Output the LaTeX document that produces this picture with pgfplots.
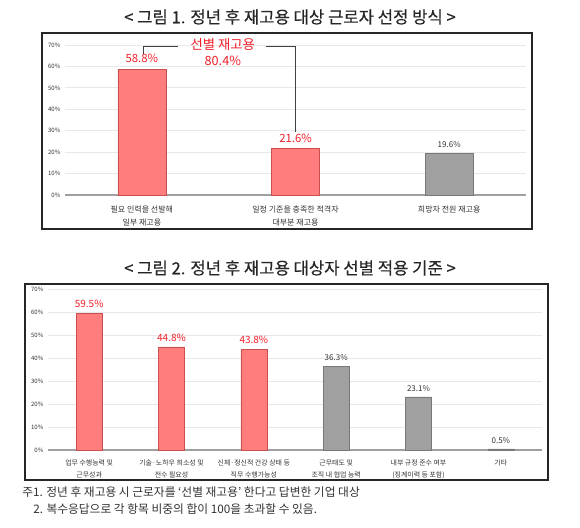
\documentclass[border=0pt]{standalone}
\usepackage{pgfplots}
\pgfplotsset{compat=1.18}
\usepackage{fontspec}
\setmainfont{Noto Sans CJK KR}
\newfontfamily\titlefont[FakeBold=0.4]{Noto Sans CJK KR}
\definecolor{redbar}{RGB}{255,125,125}
\definecolor{redline}{RGB}{200,80,80}
\definecolor{graybar}{RGB}{160,160,160}
\definecolor{grayline}{RGB}{120,120,120}
\definecolor{redtxt}{RGB}{240,30,40}
\definecolor{gridc}{RGB}{232,232,232}
\definecolor{txt}{RGB}{50,50,50}
\pgfplotsset{
  mybars/.style={
    ybar, scale only axis, clip=false,
    ymin=0, ymax=70, ytick={0,10,...,70},
    /pgf/number format/assume math mode=true,
    yticklabel={\pgfmathprintnumber{\tick}\%},
    axis line style={draw=none},
    major tick length=0pt,
    ymajorgrids, grid style={gridc, line width=0.6pt},
    extra y ticks={0}, extra y tick labels={},
    extra y tick style={grid style={graybar, line width=0.8pt}},
    xtick=data,
    xticklabel style={align=center, text=txt},
    yticklabel style={text=txt},
    nodes near coords={\pgfmathprintnumber[fixed,precision=1,fixed zerofill]{\pgfplotspointmeta}\%},
  }
}
\begin{document}
\begin{tikzpicture}
\path (0,0) rectangle (435pt,-395.25pt);
% chart 1
\node[font=\titlefont\fontsize{12.5}{14}\selectfont, text=black!85] at (217.5pt,-12.75pt) {< 그림 1. 정년 후 재고용 대상 근로자 선정 방식 >};
\draw[line width=0.8pt, black!85] (31.5pt,-24.75pt) rectangle (399pt,-171.75pt);
\begin{axis}[mybars,
  at={(48.75pt,-146.25pt)}, anchor=south west,
  width=345.75pt, height=112.5pt,
  xmin=-0.5, xmax=2.5, bar width=36pt, bar shift=0pt,
  xtick={0,1,2},
  xticklabels={{필요 인력을 선발해\\일부 재고용},{일정 기준을 충족한 적격자\\대부분 재고용},{희망자 전원 재고용}},
  xticklabel style={font=\fontsize{6}{9.75}\selectfont, yshift=-4.5pt},
  yticklabel style={font=\fontsize{4.5}{5}\selectfont},
]
\addplot[fill=redbar, draw=redline, line width=0.5pt,
  every node near coord/.append style={font=\fontsize{8.5}{9}\selectfont, text=redtxt, yshift=1pt}]
  coordinates {(0,58.8) (1,21.6)};
\addplot[fill=graybar, draw=grayline, line width=0.5pt,
  every node near coord/.append style={font=\fontsize{6}{7}\selectfont, text=txt, yshift=0.5pt}]
  coordinates {(2,19.6)};
\draw[black!75, line width=0.7pt] (axis cs:0.013,66.0) -- (axis cs:0.013,69.5) -- (axis cs:0.234,69.5);
\draw[black!75, line width=0.7pt] (axis cs:0.807,69.5) -- (axis cs:1,69.5) -- (axis cs:1,29.6);
\node[font=\fontsize{10}{11}\selectfont, text=redtxt] at (axis cs:0.527,70.2) {선별 재고용};
\node[font=\fontsize{9.5}{10}\selectfont, text=redtxt] at (axis cs:0.527,62.6) {80.4\%};
\end{axis}
% chart 2
\node[font=\titlefont\fontsize{12.5}{14}\selectfont, text=black!85] at (217.5pt,-201pt) {< 그림 2. 정년 후 재고용 대상자 선별 적용 기준 >};
\draw[line width=0.8pt, black!85] (18.75pt,-213pt) rectangle (411pt,-360pt);
\begin{axis}[mybars,
  at={(36pt,-337.5pt)}, anchor=south west,
  width=370.5pt, height=120.75pt,
  xmin=-0.5, xmax=5.5, bar width=19.5pt, bar shift=0pt,
  xtick={0,1,2,3,4,5},
  xticklabels={{업무 수행능력 및\\근무성과},{기술·노하우 희소성 및\\전수 필요성},{신체·정신적 건강 상태 등\\직무 수행가능성},{근무태도 및\\조직 내 협업 능력},{내부 규정 준수 여부\\(징계이력 등 포함)},{기타}},
  xticklabel style={font=\fontsize{5.2}{9}\selectfont, yshift=-3.5pt},
  yticklabel style={font=\fontsize{4.5}{5}\selectfont},
]
\addplot[fill=redbar, draw=redline, line width=0.5pt,
  every node near coord/.append style={font=\fontsize{7.5}{8}\selectfont, text=redtxt, yshift=0.5pt}]
  coordinates {(0,59.5) (1,44.8) (2,43.8)};
\addplot[fill=graybar, draw=grayline, line width=0.5pt,
  every node near coord/.append style={font=\fontsize{6}{7}\selectfont, text=txt, yshift=0.5pt}]
  coordinates {(3,36.3) (4,23.1) (5,0.5)};
\end{axis}
\node[anchor=west, inner sep=0pt, font=\fontsize{8.8}{10}\selectfont, text=txt] at (16.5pt,-369pt) {주1. 정년 후 재고용 시 근로자를 ‘선별 재고용’ 한다고 답변한 기업 대상};
\node[anchor=west, inner sep=0pt, font=\fontsize{8.8}{10}\selectfont, text=txt] at (24.75pt,-381.75pt) {2. 복수응답으로 각 항목 비중의 합이 100을 초과할 수 있음.};
\end{tikzpicture}
\end{document}
